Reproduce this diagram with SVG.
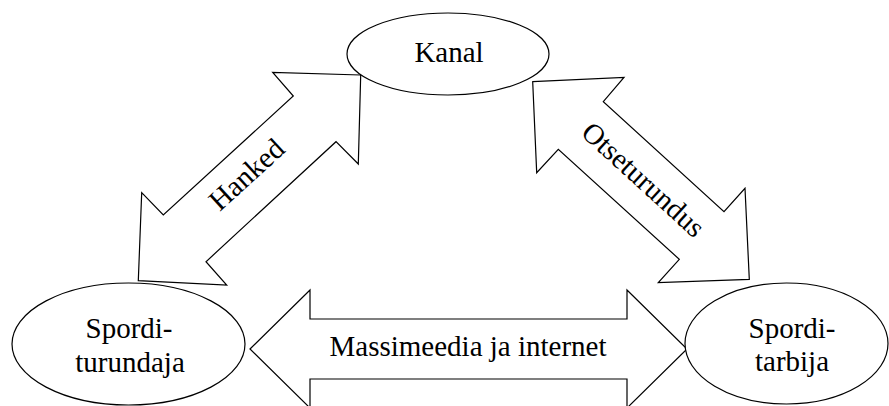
<svg xmlns="http://www.w3.org/2000/svg" width="889" height="406" viewBox="0 0 889 406">
  <style>
    .shape { fill: #ffffff; stroke: #000000; stroke-width: 1.2; stroke-linejoin: miter; }
    .label { font-family: "Liberation Serif", "Times New Roman", serif; font-size: 29px; fill: #000000; text-anchor: middle; }
  </style>
  <rect width="889" height="406" fill="#ffffff"/>

  <!-- double-headed block arrows -->
  <g id="connectors">
    <g id="arrow-hanked">
      <polygon class="shape" points="360.7,75 272.7,72.3 293.3,96 163.3,215 141.7,192.7 138.3,280.7 226.7,285 206,261.7 336,141.7 358.3,164"/>
      <text class="label" transform="translate(247,175) rotate(-42.5)" x="0" y="9">Hanked</text>
    </g>
    <g id="arrow-otseturundus">
      <polygon class="shape" points="532.7,81.7 624,77.3 603.3,101.7 724,211.7 745,188.3 749.3,279.3 658.3,282.7 679.3,259.3 558.3,149.3 536.7,172.7"/>
      <text class="label" transform="translate(643,180) rotate(42.4)" x="0" y="9">Otseturundus</text>
    </g>
    <g id="arrow-massimeedia">
      <polygon class="shape" points="250,349 310,290 310,319 627,319 627,290 687,349 627,408 627,379 310,379 310,408"/>
      <text class="label" x="468" y="356">Massimeedia ja internet</text>
    </g>
  </g>

  <!-- nodes -->
  <g id="node-kanal">
    <ellipse class="shape" cx="448" cy="54" rx="101" ry="41"/>
    <text class="label" x="449" y="62">Kanal</text>
  </g>
  <g id="node-sporditurundaja">
    <ellipse class="shape" cx="128.5" cy="344" rx="116.5" ry="61"/>
    <text class="label" x="129" y="338">Spordi-</text>
    <text class="label" x="130" y="372">turundaja</text>
  </g>
  <g id="node-sporditarbija">
    <ellipse class="shape" cx="786.5" cy="343.5" rx="101.5" ry="60.5"/>
    <text class="label" x="792" y="338">Spordi-</text>
    <text class="label" x="792" y="371">tarbija</text>
  </g>
</svg>
